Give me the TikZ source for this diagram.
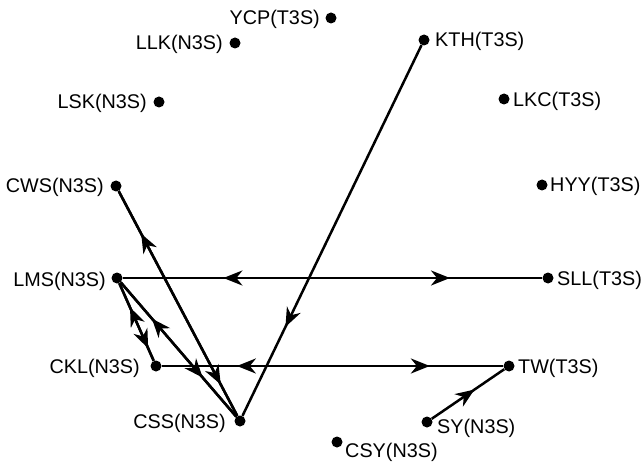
\documentclass[tikz,border=0pt]{standalone}
\usepackage{fontspec}
\setmainfont{Liberation Sans}
\usetikzlibrary{arrows.meta,decorations.markings}
\tikzset{
 stn/.style={circle,fill=black,inner sep=0pt,minimum size=11pt},
 lblL/.style={anchor=base east,inner sep=0pt,font=\fontsize{19.8}{21}\selectfont},
 lblR/.style={anchor=base west,inner sep=0pt,font=\fontsize{19.8}{21}\selectfont},
 link/.style={line width=2.5pt},
 tipat/.style={postaction={decorate},decoration={markings,mark=at position #1 with {\arrow{Stealth[length=19pt,width=15pt,inset=6pt]}}}}
}
\begin{document}
\begin{tikzpicture}[x=1pt,y=-1pt]
\useasboundingbox (0,0) rectangle (644,462);
% stations
\node[stn] (ycp) at (331,18) {};
\node[stn] (llk) at (235,43) {};
\node[stn] (kth) at (424,40) {};
\node[stn] (lsk) at (159,102) {};
\node[stn] (lkc) at (504,99) {};
\node[stn] (cws) at (116,186) {};
\node[stn] (hyy) at (542,185) {};
\node[stn] (lms) at (117,278) {};
\node[stn] (sll) at (548,278) {};
\node[stn] (ckl) at (156,366) {};
\node[stn] (tw) at (509,366) {};
\node[stn] (css) at (240,421) {};
\node[stn] (sy) at (427,422) {};
\node[stn] (csy) at (337,442) {};
% labels
\node[lblL] (ycpL) at (320,25) {YCP(T3S)};
\node[lblL] (llkL) at (223,50) {LLK(N3S)};
\node[lblR] (kthL) at (435,47) {KTH(T3S)};
\node[lblL] (lskL) at (147,109) {LSK(N3S)};
\node[lblR] (lkcL) at (513,107) {LKC(T3S)};
\node[lblL] (cwsL) at (104,193) {CWS(N3S)};
\node[lblR] (hyyL) at (550,192) {HYY(T3S)};
\node[lblL] (lmsL) at (106,286) {LMS(N3S)};
\node[lblR] (sllL) at (557,285) {SLL(T3S)};
\node[lblL] (cklL) at (140,373) {CKL(N3S)};
\node[lblR] (twL) at (518,373) {TW(T3S)};
\node[lblL] (cssL) at (226,428) {CSS(N3S)};
\node[lblR] (syL) at (437,433) {SY(N3S)};
\node[lblR] (csyL) at (345,457) {CSY(N3S)};
% links
\draw[link,tipat=0.76] (kth) -- (css);
\draw[link,tipat=0.78] (lms) -- (sll);
\draw[link,tipat=0.76] (sll) -- (lms);
\draw[link,tipat=0.785] (ckl) -- (tw);
\draw[link,tipat=0.78] (tw) -- (ckl);
\draw[link,tipat=0.59] (sy) -- (tw);
\draw[link,tipat=0.81] (css) -- (cws);
\draw[link,tipat=0.86] (cws) -- (css);
\draw[link,tipat=0.73] (css) -- (lms);
\draw[link,tipat=0.71] (lms) -- (css);
\draw[link,tipat=0.69] (ckl) -- (lms);
\draw[link,tipat=0.84] (lms) -- (ckl);
\end{tikzpicture}
\end{document}
